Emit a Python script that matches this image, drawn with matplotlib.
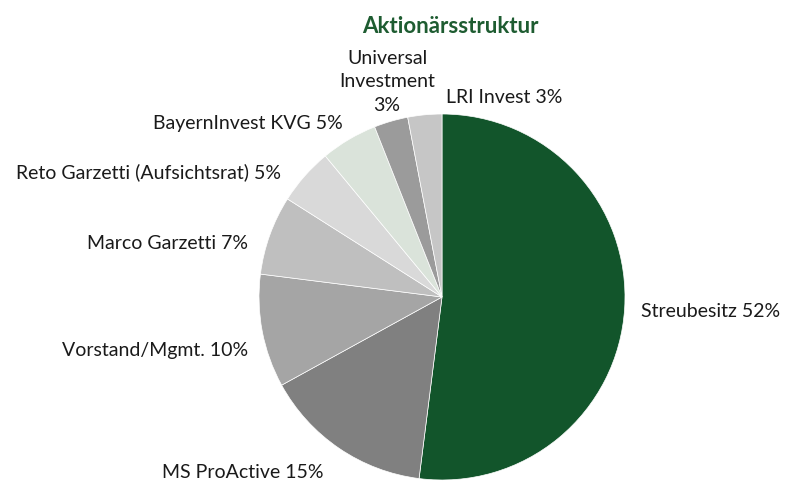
import matplotlib.pyplot as plt

plt.rcParams['font.family'] = ['Lato', 'DejaVu Sans']

holders = ['Streubesitz', 'MS ProActive', 'Vorstand/Mgmt.', 'Marco Garzetti',
           'Reto Garzetti (Aufsichtsrat)', 'BayernInvest KVG', 'Universal\nInvestment', 'LRI Invest']
shares = [52, 15, 10, 7, 5, 5, 3, 3]
colors = ['#12552b', '#808080', '#a5a5a5', '#bfbfbf', '#d9d9d9', '#dae3da', '#9b9b9b', '#c6c6c6']

# label anchors in pie units (radius 1), with alignment
label_pos = [(1.09, -0.08, 'left'), (-0.65, -0.96, 'right'), (-1.06, -0.29, 'right'),
             (-1.06, 0.29, 'right'), (-0.88, 0.68, 'right'), (-0.54, 0.95, 'right'),
             (-0.30, 1.175, 'center'), (0.02, 1.09, 'left')]

W, H, R = 787, 484, 183.0
cx, cy = 442, 297

fig = plt.figure(figsize=(W / 100, H / 100), dpi=100)
ax = fig.add_axes([0, 0, 1, 1])
ax.pie(shares, colors=colors, startangle=90, counterclock=False, radius=1,
       wedgeprops=dict(edgecolor='white', linewidth=0.5))
ax.set_xlim(-cx / R, (W - cx) / R)
ax.set_ylim(-(H - cy) / R, cy / R)

for name, val, (x, y, ha) in zip(holders, shares, label_pos):
    sep = '\n' if '\n' in name else ' '
    ax.text(x, y, f'{name}{sep}{val}%', ha=ha, va='center', fontsize=14,
            color='#1a1a1a', linespacing=1.45, multialignment='center')

ax.text(0.045, 1.48, 'Aktionärsstruktur', ha='center', va='center', fontsize=16,
        fontweight='bold', color='#1e5c31')

fig.savefig('out.png', dpi=100)
